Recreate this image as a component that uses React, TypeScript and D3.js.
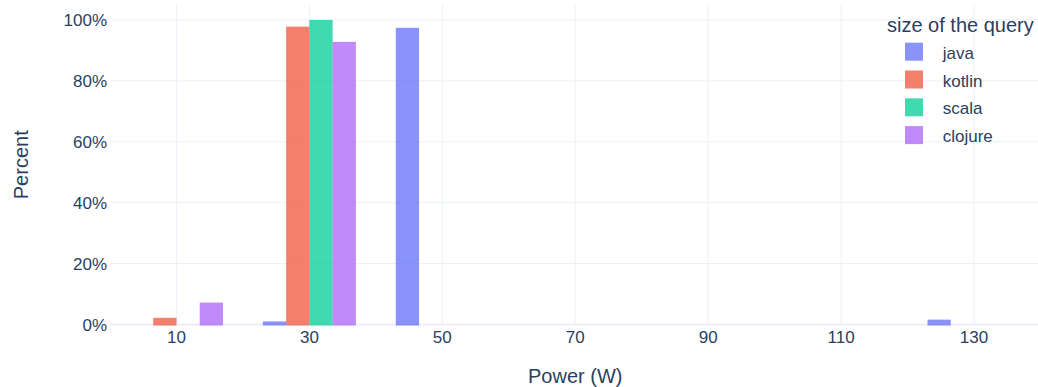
import React from "react";
import * as d3 from "d3";

const binCenters = [10, 30, 50, 70, 90, 110, 130];
const binWidth = 20;
const seriesNames = ["java", "kotlin", "scala", "clojure"];
const javaValues = [0, 1.0, 97.4, 0, 0, 0, 1.6];
const kotlinValues = [2.2, 97.8, 0, 0, 0, 0, 0];
const scalaValues = [0, 100, 0, 0, 0, 0, 0];
const clojureValues = [7.2, 92.8, 0, 0, 0, 0, 0];
const seriesColors = ["#636efa", "#EF553B", "#00cc96", "#ab63fa"];
const xTicks = [10, 30, 50, 70, 90, 110, 130];
const yTicks = [0, 20, 40, 60, 80, 100];
const xTitle = "Power (W)";
const yTitle = "Percent";
const legendTitle = "size of the query";

const W = 1038;
const H = 387;
const font = "'Liberation Sans', Arial, sans-serif";
const textColor = "#2a3f5f";
const gridColor = "#ebf0f8";

export default function App() {
  const left = 110;
  const right = 1040.5;
  const top = 5;
  const bottom = 324.5;
  const x = d3.scaleLinear().domain([0, 140]).range([left, right]);
  const y = d3.scaleLinear().domain([0, 104.9]).range([bottom, top]);
  const allValues = [javaValues, kotlinValues, scalaValues, clojureValues];
  const groupW = (x(binWidth) - x(0)) * 0.7;
  const sub = d3.scaleBand<string>().domain(seriesNames).range([-groupW / 2, groupW / 2]).padding(0);

  return (
    <svg width={W} height={H} style={{ position: "absolute", left: 0, top: 0, background: "#fff" }} fontFamily={font}>
      <rect x={0} y={0} width={W} height={H} fill="#fff" />
      {/* grid */}
      {xTicks.map((t) => (
        <line key={"gx" + t} x1={x(t)} x2={x(t)} y1={top} y2={bottom} stroke={gridColor} strokeWidth={1} />
      ))}
      {yTicks.filter((t) => t !== 0).map((t) => (
        <line key={"gy" + t} x1={left} x2={right} y1={y(t)} y2={y(t)} stroke={gridColor} strokeWidth={1} />
      ))}
      <line x1={left} x2={right} y1={y(0)} y2={y(0)} stroke={gridColor} strokeWidth={2} />
      {/* bars */}
      {allValues.map((vals, si) =>
        vals.map((v, bi) =>
          v > 0 ? (
            <rect
              key={si + "-" + bi}
              x={x(binCenters[bi]) + (sub(seriesNames[si]) as number)}
              width={sub.bandwidth()}
              y={y(v)}
              height={y(0) + 1 - y(v)}
              fill={seriesColors[si]}
              fillOpacity={0.75}
            />
          ) : null
        )
      )}
      {/* x ticks */}
      {xTicks.map((t) => (
        <text key={"tx" + t} x={x(t)} y={343} textAnchor="middle" fontSize={17} fill={textColor}>
          {t}
        </text>
      ))}
      {yTicks.map((t) => (
        <text key={"ty" + t} x={107} y={y(t) + 6} textAnchor="end" fontSize={17} fill={textColor}>
          {t + "%"}
        </text>
      ))}
      <text x={(left + right) / 2} y={383} textAnchor="middle" fontSize={20} fill={textColor}>
        {xTitle}
      </text>
      <text transform={`translate(28,${(top + bottom) / 2}) rotate(-90)`} textAnchor="middle" fontSize={20} fill={textColor}>
        {yTitle}
      </text>
      {/* legend */}
      <text x={887} y={31.5} fontSize={20} fill={textColor}>
        {legendTitle}
      </text>
      {seriesNames.map((n, i) => (
        <g key={n} transform={`translate(905,${42.7 + i * 27.8})`}>
          <rect x={0} y={0} width={18} height={18} fill={seriesColors[i]} fillOpacity={0.75} />
          <text x={37.7} y={16} fontSize={17} fill={textColor}>
            {n}
          </text>
        </g>
      ))}
    </svg>
  );
}
